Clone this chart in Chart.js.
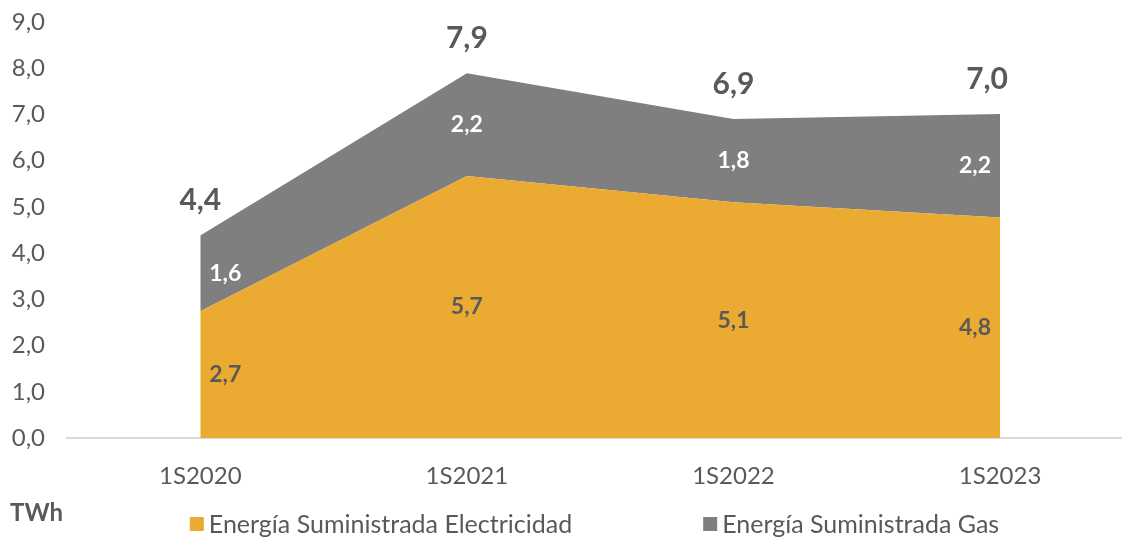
<!DOCTYPE html>
<html>
<head>
<meta charset="utf-8">
<script src="https://cdn.jsdelivr.net/npm/chart.js@4"></script>
<style>
  html, body { margin: 0; padding: 0; background: #fff; }
  #wrap { width: 1122px; height: 538px; position: relative; }
</style>
</head>
<body>
<div id="wrap"><canvas id="chart"></canvas></div>
<script>
// Data (TWh)
const periods = ['1S2020', '1S2021', '1S2022', '1S2023'];
const electricity = [2.74, 5.67, 5.10, 4.77];
const gas = [1.64, 2.22, 1.80, 2.24];
const seriesNames = ['Energía Suministrada Electricidad', 'Energía Suministrada Gas'];
const yTicks = [0, 1, 2, 3, 4, 5, 6, 7, 8, 9];
const unitLabel = 'TWh';

const ORANGE = '#EBAA31';
const GREY = '#7F7F7F';
const TEXT = '#595959';

const fmt = v => v.toFixed(1).replace('.', ',');

Chart.defaults.font.family = 'Lato, "Noto Sans", sans-serif';
Chart.defaults.color = TEXT;

// Value labels, totals, unit and legend
const labelsPlugin = {
    id: 'labels',
    afterDatasetsDraw(chart) {
        const ctx = chart.ctx;
        const x = chart.scales.x, y = chart.scales.y;
        const last = periods.length - 1;
        ctx.save();
        ctx.textAlign = 'center';
        ctx.textBaseline = 'middle';

        periods.forEach((p, i) => {
            const px = x.getPixelForValue(i);
            const edge = i === 0 ? 25 : (i === last ? -25 : 0);

            // electricity
            ctx.font = 'bold 23px Lato';
            ctx.fillStyle = TEXT;
            ctx.fillText(fmt(electricity[i]), px + edge, y.getPixelForValue(electricity[i] / 2));

            // gas
            ctx.fillStyle = '#ffffff';
            ctx.fillText(fmt(gas[i]), px + edge, y.getPixelForValue(electricity[i] + gas[i] / 2));

            // total
            const total = electricity[i] + gas[i];
            ctx.font = 'bold 30px Lato';
            ctx.fillStyle = TEXT;
            ctx.fillText(fmt(total), px + (i === last ? -13 : 0), y.getPixelForValue(total) - 35);
        });
        ctx.restore();
    },
    afterDraw(chart) {
        const ctx = chart.ctx;
        const area = chart.chartArea;
        ctx.save();
        ctx.textBaseline = 'middle';

        // unit
        ctx.font = 'bold 24px Lato';
        ctx.fillStyle = TEXT;
        ctx.textAlign = 'left';
        ctx.fillText(unitLabel, 10, 513);

        // legend
        ctx.font = '25px Lato';
        const box = 14, gapText = 5, gapItem = 131;
        const widths = seriesNames.map(n => box + gapText + ctx.measureText(n).width);
        const totalW = widths.reduce((a, b) => a + b, 0) + gapItem * (widths.length - 1);
        let cx = (area.left + area.right) / 2 - totalW / 2;
        const cy = 524;
        chart.data.datasets.forEach((ds, i) => {
            ctx.fillStyle = ds.backgroundColor;
            ctx.fillRect(cx, cy - box / 2, box, box);
            ctx.fillStyle = TEXT;
            ctx.fillText(ds.label, cx + box + gapText, cy + 1);
            cx += widths[i] + gapItem;
        });
        ctx.restore();
    }
};

new Chart(document.getElementById('chart'), {
    type: 'line',
    data: {
        datasets: [
            {
                label: seriesNames[0],
                data: electricity.map((v, i) => ({ x: i, y: v })),
                backgroundColor: ORANGE,
                borderColor: ORANGE,
                borderWidth: 0,
                pointRadius: 0,
                fill: 'origin',
                tension: 0
            },
            {
                label: seriesNames[1],
                data: gas.map((v, i) => ({ x: i, y: v })),
                backgroundColor: GREY,
                borderColor: GREY,
                borderWidth: 0,
                pointRadius: 0,
                fill: '-1',
                tension: 0
            }
        ]
    },
    options: {
        responsive: true,
        maintainAspectRatio: false,
        animation: false,
        layout: { padding: { top: 22, left: 0, right: 0, bottom: 0 } },
        plugins: {
            legend: { display: false },
            tooltip: { enabled: false }
        },
        scales: {
            x: {
                type: 'linear',
                min: -0.5,
                max: 3.4575,
                grid: { display: false },
                border: { color: '#D9D9D9', width: 2 },
                afterBuildTicks: scale => { scale.ticks = periods.map((_, i) => ({ value: i })); },
                afterFit: scale => { scale.height = 100; scale.paddingLeft = 0; scale.paddingRight = 0; },
                ticks: {
                    padding: 16,
                    maxRotation: 0,
                    autoSkip: false,
                    font: { size: 24 },
                    color: TEXT,
                    callback: v => periods[v] ?? ''
                }
            },
            y: {
                stacked: true,
                min: 0,
                max: 9,
                grid: { display: false },
                border: { display: false },
                afterBuildTicks: scale => { scale.ticks = yTicks.map(v => ({ value: v })); },
                afterFit: scale => { scale.width = 67; scale.paddingTop = 0; scale.paddingBottom = 0; },
                ticks: {
                    padding: 14,
                    font: { size: 24 },
                    color: TEXT,
                    callback: v => fmt(v)
                }
            }
        }
    },
    plugins: [labelsPlugin]
});
</script>
</body>
</html>
